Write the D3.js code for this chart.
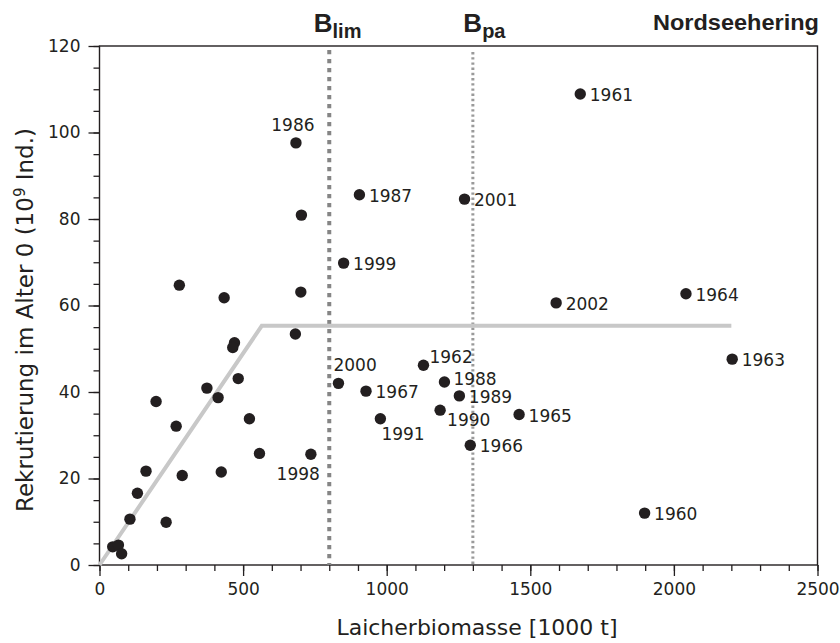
<!DOCTYPE html>
<html>
<head>
<meta charset="utf-8">
<script src="https://cdn.jsdelivr.net/npm/d3@7"></script>
<style>
  body { margin: 0; background: #fff; }
  text { fill: #231f20; }
</style>
</head>
<body>
<svg id="chart" width="840" height="643"></svg>
<script>
// spawning biomass (1000 t), recruitment (10^9), year label ("" = unlabeled)
const biomass = [1898, 1674, 1128, 2203, 2042, 1461, 1291, 928, 684, 905, 1201, 1253, 1186, 978, 736, 850, 832, 1271, 1590,
  703, 701, 682, 278, 434, 470, 464, 483, 374, 413, 197, 267, 522, 557, 162, 288, 424, 132, 106, 232, 46, 66, 77];
const recruits = [12.0, 108.9, 46.2, 47.6, 62.7, 34.8, 27.7, 40.2, 97.6, 85.6, 42.3, 39.1, 35.8, 33.8, 25.6, 69.8, 42.0, 84.6, 60.6,
  80.9, 63.1, 53.4, 64.7, 61.8, 51.4, 50.3, 43.1, 40.9, 38.7, 37.8, 32.1, 33.8, 25.8, 21.7, 20.7, 21.5, 16.6, 10.6, 9.9, 4.2, 4.6, 2.6];
const years = ["1960", "1961", "1962", "1963", "1964", "1965", "1966", "1967", "1986", "1987", "1988", "1989", "1990", "1991",
  "1998", "1999", "2000", "2001", "2002",
  "", "", "", "", "", "", "", "", "", "", "", "", "", "", "", "", "", "", "", "", "", ""];

// hockey-stick segmented regression
const stickX = [0, 565, 2200];
const stickY = [0, 55.3, 55.3];

// reference points
const refX = [800, 1300];
const refSub = ["lim", "pa"];

const xTicks = [0, 500, 1000, 1500, 2000, 2500];
const yTicks = [0, 20, 40, 60, 80, 100, 120];

const width = 840;
const height = 643;
const ink = "#231f20";

const svg = d3.select("#chart");

const x = d3.scaleLinear().domain([0, 2500]).range([99.5, 817.5]);
const y = d3.scaleLinear().domain([0, 120]).range([565, 46]);

// frame
svg.append("rect")
  .attr("x", x(0))
  .attr("y", y(120))
  .attr("width", x(2500) - x(0))
  .attr("height", y(0) - y(120))
  .attr("fill", "none")
  .attr("stroke", ink)
  .attr("stroke-width", 1.4);

// minor ticks
svg.append("g")
  .attr("transform", `translate(0, ${y(0)})`)
  .call(d3.axisBottom(x).tickValues(d3.range(0, 2501, 100)).tickSize(6).tickSizeOuter(0).tickFormat(""))
  .call((g) => g.select(".domain").remove());

svg.append("g")
  .attr("transform", `translate(${x(0)}, 0)`)
  .call(d3.axisLeft(y).tickValues(d3.range(0, 121, 5)).tickSize(6).tickSizeOuter(0).tickFormat(""))
  .call((g) => g.select(".domain").remove());

// major ticks with labels
const xAxis = svg.append("g")
  .attr("transform", `translate(0, ${y(0)})`)
  .call(d3.axisBottom(x).tickValues(xTicks).tickSize(11).tickPadding(7).tickFormat(d3.format("d")));

const yAxis = svg.append("g")
  .attr("transform", `translate(${x(0)}, 0)`)
  .call(d3.axisLeft(y).tickValues(yTicks).tickSize(11).tickPadding(8));

[xAxis, yAxis].forEach((g) => g.select(".domain").remove());

svg.selectAll(".tick line").attr("stroke", ink).attr("stroke-width", 1.3);
svg.selectAll(".tick text")
  .style("font-family", "DejaVu Sans")
  .style("font-size", "17px")
  .style("fill", ink);

// reference lines
svg.append("line")
  .attr("x1", x(refX[0])).attr("x2", x(refX[0]))
  .attr("y1", y(120) + 4).attr("y2", y(0))
  .attr("stroke", "#858585")
  .attr("stroke-width", 4)
  .attr("stroke-dasharray", "4.3 4.7");

svg.append("line")
  .attr("x1", x(refX[1])).attr("x2", x(refX[1]))
  .attr("y1", y(120) + 6).attr("y2", y(0))
  .attr("stroke", "#9a9a9a")
  .attr("stroke-width", 3)
  .attr("stroke-dasharray", "2.4 2.8");

const refShift = [-15.5, -9.5];
refX.forEach((v, i) => {
  const t = svg.append("text")
    .attr("x", x(v) + refShift[i])
    .attr("y", 31.5)
    .style("font-family", "Liberation Sans, Arial, sans-serif")
    .style("font-weight", "bold")
    .style("font-size", "26px");
  t.append("tspan").text("B");
  t.append("tspan").attr("dy", 6).style("font-size", "20px").text(refSub[i]);
});

// hockey stick
svg.append("path")
  .datum(stickX.map((d, i) => [d, stickY[i]]))
  .attr("d", d3.line().x((d) => x(d[0])).y((d) => y(d[1])))
  .attr("fill", "none")
  .attr("stroke", "#c8c8c8")
  .attr("stroke-width", 4);

// points
const points = biomass.map((d, i) => ({ b: d, r: recruits[i], year: years[i] }));

svg.append("g")
  .selectAll("circle")
  .data(points)
  .enter()
  .append("circle")
  .attr("cx", (d) => x(d.b))
  .attr("cy", (d) => y(d.r))
  .attr("r", 5.7)
  .attr("fill", ink);

// year labels: default to the right, a few moved
const labelOffset = {
  1986: [-3, -12, "middle"],
  2000: [-5, -12, "start"],
  1991: [1, 21, "start"],
  1990: [7, 16, "start"],
  1998: [9, 26, "end"],
  1962: [6, -2, "start"],
  1988: [9, 2.5, "start"],
};

svg.append("g")
  .selectAll("text")
  .data(points.filter((d) => d.year !== ""))
  .enter()
  .append("text")
  .attr("x", (d) => x(d.b) + (labelOffset[d.year] ? labelOffset[d.year][0] : 9.5))
  .attr("y", (d) => y(d.r) + (labelOffset[d.year] ? labelOffset[d.year][1] : 7.3))
  .attr("text-anchor", (d) => (labelOffset[d.year] ? labelOffset[d.year][2] : "start"))
  .style("font-family", "DejaVu Sans")
  .style("font-size", "17px")
  .text((d) => d.year);

// titles
svg.append("text")
  .attr("x", 819)
  .attr("y", 30)
  .attr("text-anchor", "end")
  .attr("textLength", 166)
  .attr("lengthAdjust", "spacingAndGlyphs")
  .style("font-family", "Liberation Sans, Arial, sans-serif")
  .style("font-weight", "bold")
  .style("font-size", "22px")
  .text("Nordseehering");

svg.append("text")
  .attr("x", 477)
  .attr("y", 635)
  .attr("text-anchor", "middle")
  .style("font-family", "DejaVu Sans")
  .style("font-size", "22px")
  .text("Laicherbiomasse [1000 t]");

const yTitle = svg.append("text")
  .attr("transform", "translate(33, 320) rotate(-90)")
  .attr("text-anchor", "middle")
  .style("font-family", "DejaVu Sans")
  .style("font-size", "23px");
yTitle.append("tspan").text("Rekrutierung im Alter 0 (10");
yTitle.append("tspan").attr("dy", -8).style("font-size", "15px").text("9");
yTitle.append("tspan").attr("dy", 8).text(" Ind.)");
</script>
</body>
</html>
